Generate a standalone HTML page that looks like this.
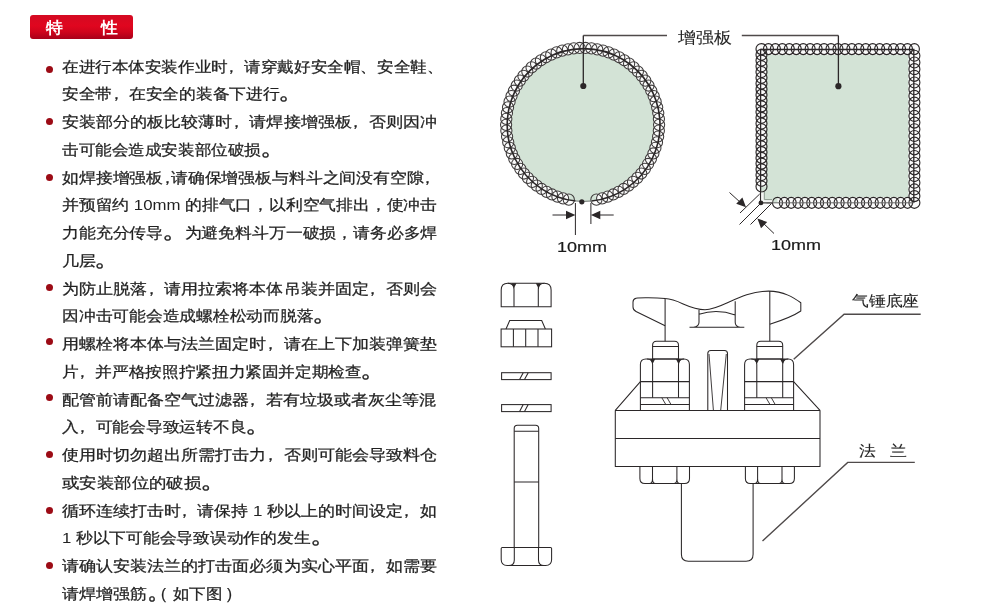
<!DOCTYPE html>
<html><head><meta charset="utf-8">
<style>
html,body{margin:0;padding:0;background:#fff;}
body{width:993px;height:610px;position:relative;overflow:hidden;font-family:"Liberation Sans",sans-serif;}
.badge{position:absolute;left:30px;top:14.6px;width:103.3px;height:24.1px;border-radius:3px;background:linear-gradient(#d40a22,#e0061f 45%,#d0041c 70%,#a8001a);}
.badge span{position:absolute;top:5px;color:#fff;font-weight:bold;font-size:16px;line-height:16px;transform:scaleX(1.05);transform-origin:0 0;}
.ln{position:absolute;left:62px;white-space:nowrap;font-size:15px;line-height:16px;color:#222;-webkit-text-stroke:0.25px #222;transform-origin:0 0;}
.ln b{font-weight:normal;position:relative;left:-4px;}
.ln u{text-decoration:none;display:inline-block;width:7px;text-indent:-4px;overflow:visible;}
.ln s{text-decoration:none;display:inline-block;transform:translateX(1.2px) scale(1.6);transform-origin:4px 12.5px;}
.ln i{font-style:normal;-webkit-text-stroke:0;}
.bul{position:absolute;left:45.7px;width:7px;height:7px;border-radius:50%;background:#9c0b15;}
.lb{position:absolute;white-space:nowrap;font-size:15px;line-height:16px;color:#222;-webkit-text-stroke:0.1px #222;transform-origin:0 0;}
.num{position:absolute;white-space:nowrap;font-size:15.5px;line-height:16px;color:#1a1a1a;-webkit-text-stroke:0.2px #1a1a1a;transform-origin:0 0;transform:scaleX(1.16);}
svg{position:absolute;left:0;top:0;}
.ln,.lb,.num,.badge span{will-change:transform;}
</style></head><body>
<div class="badge"><span style="left:16px">特</span><span style="left:71px">性</span></div>
<div class="ln" style="top:58.50px;transform:scaleX(1.105)">在进行本体安装作业时<b>，</b>请穿戴好安全帽、安全鞋、</div>
<div class="bul" style="top:65.50px"></div>
<div class="ln" style="top:86.25px;transform:scaleX(1.116)">安全带<b>，</b>在安全的装备下进行<s>。</s></div>
<div class="ln" style="top:114.00px;transform:scaleX(1.136)">安装部分的板比较薄时<b>，</b>请焊接增强板<b>，</b>否则因冲</div>
<div class="bul" style="top:118.20px"></div>
<div class="ln" style="top:141.75px;transform:scaleX(1.105)">击可能会造成安装部位破损<s>。</s></div>
<div class="ln" style="top:169.50px;transform:scaleX(1.123)">如焊接增强板<u>，</u>请确保增强板与料斗之间没有空隙<b>，</b></div>
<div class="bul" style="top:174.00px"></div>
<div class="ln" style="top:197.25px;transform:scaleX(1.119)">并预留约 <i>10mm</i> 的排气口，以利空气排出，使冲击</div>
<div class="ln" style="top:225.00px;transform:scaleX(1.123)">力能充分传导<s>。</s> 为避免料斗万一破损，请务必多焊</div>
<div class="ln" style="top:252.75px;transform:scaleX(1.127)">几层<s>。</s></div>
<div class="ln" style="top:280.50px;transform:scaleX(1.136)">为防止脱落<b>，</b>请用拉索将本体吊装并固定<b>，</b>否则会</div>
<div class="bul" style="top:284.00px"></div>
<div class="ln" style="top:308.25px;transform:scaleX(1.118)">因冲击可能会造成螺栓松动而脱落<s>。</s></div>
<div class="ln" style="top:336.00px;transform:scaleX(1.136)">用螺栓将本体与法兰固定时<b>，</b>请在上下加装弹簧垫</div>
<div class="bul" style="top:338.10px"></div>
<div class="ln" style="top:363.75px;transform:scaleX(1.11)">片<b>，</b>并严格按照拧紧扭力紧固并定期检查<s>。</s></div>
<div class="ln" style="top:391.50px;transform:scaleX(1.133)">配管前请配备空气过滤器<b>，</b>若有垃圾或者灰尘等混</div>
<div class="bul" style="top:393.70px"></div>
<div class="ln" style="top:419.25px;transform:scaleX(1.118)">入<b>，</b>可能会导致运转不良<s>。</s></div>
<div class="ln" style="top:447.00px;transform:scaleX(1.136)">使用时切勿超出所需打击力<b>，</b>否则可能会导致料仓</div>
<div class="bul" style="top:450.90px"></div>
<div class="ln" style="top:474.75px;transform:scaleX(1.161)">或安装部位的破损<s>。</s></div>
<div class="ln" style="top:502.50px;transform:scaleX(1.129)">循环连续打击时<b>，</b>请保持 <i>1</i> 秒以上的时间设定<b>，</b>如</div>
<div class="bul" style="top:506.50px"></div>
<div class="ln" style="top:530.25px;transform:scaleX(1.116)"><i>1</i> 秒以下可能会导致误动作的发生<s>。</s></div>
<div class="ln" style="top:558.00px;transform:scaleX(1.136)">请确认安装法兰的打击面必须为实心平面<b>，</b>如需要</div>
<div class="bul" style="top:561.70px"></div>
<div class="ln" style="top:585.75px;transform:scaleX(1.13)">请焊增强筋</div>
<svg width="993" height="610" viewBox="0 0 993 610"><circle cx="583.6" cy="125.0" r="76.4" fill="#d3e3d6"/>
<path d="M568.79,199.64 A76.5,76.5 0 1 1 596.41,199.64" fill="none" stroke="#fbfbfb" stroke-width="11.2"/>
<g fill="none" stroke="#3d3a3a" stroke-width="1.05"><circle cx="568.79" cy="199.64" r="5.6"/><circle cx="563.05" cy="198.36" r="5.6"/><circle cx="557.43" cy="196.64" r="5.6"/><circle cx="551.95" cy="194.49" r="5.6"/><circle cx="546.66" cy="191.93" r="5.6"/><circle cx="541.58" cy="188.97" r="5.6"/><circle cx="536.74" cy="185.63" r="5.6"/><circle cx="532.17" cy="181.93" r="5.6"/><circle cx="527.90" cy="177.88" r="5.6"/><circle cx="523.96" cy="173.53" r="5.6"/><circle cx="520.36" cy="168.88" r="5.6"/><circle cx="517.13" cy="163.96" r="5.6"/><circle cx="514.28" cy="158.82" r="5.6"/><circle cx="511.84" cy="153.47" r="5.6"/><circle cx="509.81" cy="147.95" r="5.6"/><circle cx="508.22" cy="142.29" r="5.6"/><circle cx="507.07" cy="136.52" r="5.6"/><circle cx="506.36" cy="130.68" r="5.6"/><circle cx="506.10" cy="124.81" r="5.6"/><circle cx="506.30" cy="118.93" r="5.6"/><circle cx="506.94" cy="113.09" r="5.6"/><circle cx="508.03" cy="107.31" r="5.6"/><circle cx="509.57" cy="101.63" r="5.6"/><circle cx="511.53" cy="96.09" r="5.6"/><circle cx="513.92" cy="90.72" r="5.6"/><circle cx="516.71" cy="85.54" r="5.6"/><circle cx="519.89" cy="80.59" r="5.6"/><circle cx="523.44" cy="75.90" r="5.6"/><circle cx="527.33" cy="71.50" r="5.6"/><circle cx="531.56" cy="67.42" r="5.6"/><circle cx="536.09" cy="63.66" r="5.6"/><circle cx="540.89" cy="60.27" r="5.6"/><circle cx="545.94" cy="57.26" r="5.6"/><circle cx="551.21" cy="54.64" r="5.6"/><circle cx="556.66" cy="52.43" r="5.6"/><circle cx="562.26" cy="50.65" r="5.6"/><circle cx="567.99" cy="49.31" r="5.6"/><circle cx="573.80" cy="48.41" r="5.6"/><circle cx="579.66" cy="47.96" r="5.6"/><circle cx="585.54" cy="47.96" r="5.6"/><circle cx="591.40" cy="48.41" r="5.6"/><circle cx="597.21" cy="49.31" r="5.6"/><circle cx="602.94" cy="50.65" r="5.6"/><circle cx="608.54" cy="52.43" r="5.6"/><circle cx="613.99" cy="54.64" r="5.6"/><circle cx="619.26" cy="57.26" r="5.6"/><circle cx="624.31" cy="60.27" r="5.6"/><circle cx="629.11" cy="63.66" r="5.6"/><circle cx="633.64" cy="67.42" r="5.6"/><circle cx="637.87" cy="71.50" r="5.6"/><circle cx="641.76" cy="75.90" r="5.6"/><circle cx="645.31" cy="80.59" r="5.6"/><circle cx="648.49" cy="85.54" r="5.6"/><circle cx="651.28" cy="90.72" r="5.6"/><circle cx="653.67" cy="96.09" r="5.6"/><circle cx="655.63" cy="101.63" r="5.6"/><circle cx="657.17" cy="107.31" r="5.6"/><circle cx="658.26" cy="113.09" r="5.6"/><circle cx="658.90" cy="118.93" r="5.6"/><circle cx="659.10" cy="124.81" r="5.6"/><circle cx="658.84" cy="130.68" r="5.6"/><circle cx="658.13" cy="136.52" r="5.6"/><circle cx="656.98" cy="142.29" r="5.6"/><circle cx="655.39" cy="147.95" r="5.6"/><circle cx="653.36" cy="153.47" r="5.6"/><circle cx="650.92" cy="158.82" r="5.6"/><circle cx="648.07" cy="163.96" r="5.6"/><circle cx="644.84" cy="168.88" r="5.6"/><circle cx="641.24" cy="173.53" r="5.6"/><circle cx="637.30" cy="177.88" r="5.6"/><circle cx="633.03" cy="181.93" r="5.6"/><circle cx="628.46" cy="185.63" r="5.6"/><circle cx="623.62" cy="188.97" r="5.6"/><circle cx="618.54" cy="191.93" r="5.6"/><circle cx="613.25" cy="194.49" r="5.6"/><circle cx="607.77" cy="196.64" r="5.6"/><circle cx="602.15" cy="198.36" r="5.6"/><circle cx="596.41" cy="199.64" r="5.6"/></g>
<path d="M575.61,200.98 A76.4,76.4 0 1 1 591.59,200.98" fill="none" stroke="#2b2728" stroke-width="1.6"/>
<path d="M591.59,200.98 A76.4,76.4 0 0 1 575.61,200.98" fill="none" stroke="#6f7571" stroke-width="1"/>
<path d="M583.3,35.5H667M741.8,35.5H838.4" stroke="#4f4a4a" stroke-width="1.6" fill="none"/>
<circle cx="581.8" cy="201.8" r="2.6" fill="#2b2728"/>
<path d="M575.4,203V235M590.9,203V224M552.5,215H569M613.7,215H597" stroke="#2b2728" stroke-width="1" fill="none"/>
<path d="M575.4,215L566,210.8V219.2Z M590.9,215L600.3,210.8V219.2Z" fill="#2b2728"/>
<rect x="760.6" y="49.5" width="153.19999999999993" height="153.3" fill="#d3e3d6"/>
<path d="M760.6,186.5V49.5H913.8V202.8H777.5" fill="none" stroke="#fbfbfb" stroke-width="11.0" stroke-linejoin="round"/>
<g fill="none" stroke="#2b2728" stroke-width="1.15"><ellipse cx="761.50" cy="186.50" rx="5.5" ry="5.5"/><ellipse cx="761.50" cy="180.78" rx="5.5" ry="5.5"/><ellipse cx="761.50" cy="175.05" rx="5.5" ry="5.5"/><ellipse cx="761.50" cy="169.32" rx="5.5" ry="5.5"/><ellipse cx="761.50" cy="163.60" rx="5.5" ry="5.5"/><ellipse cx="761.50" cy="157.88" rx="5.5" ry="5.5"/><ellipse cx="761.50" cy="152.15" rx="5.5" ry="5.5"/><ellipse cx="761.50" cy="146.43" rx="5.5" ry="5.5"/><ellipse cx="761.50" cy="140.70" rx="5.5" ry="5.5"/><ellipse cx="761.50" cy="134.97" rx="5.5" ry="5.5"/><ellipse cx="761.50" cy="129.25" rx="5.5" ry="5.5"/><ellipse cx="761.50" cy="123.53" rx="5.5" ry="5.5"/><ellipse cx="761.50" cy="117.80" rx="5.5" ry="5.5"/><ellipse cx="761.50" cy="112.08" rx="5.5" ry="5.5"/><ellipse cx="761.50" cy="106.35" rx="5.5" ry="5.5"/><ellipse cx="761.50" cy="100.62" rx="5.5" ry="5.5"/><ellipse cx="761.50" cy="94.90" rx="5.5" ry="5.5"/><ellipse cx="761.50" cy="89.17" rx="5.5" ry="5.5"/><ellipse cx="761.50" cy="83.45" rx="5.5" ry="5.5"/><ellipse cx="761.50" cy="77.72" rx="5.5" ry="5.5"/><ellipse cx="761.50" cy="72.00" rx="5.5" ry="5.5"/><ellipse cx="761.50" cy="66.27" rx="5.5" ry="5.5"/><ellipse cx="761.50" cy="60.55" rx="5.5" ry="5.5"/><ellipse cx="761.50" cy="54.82" rx="5.5" ry="5.5"/><ellipse cx="761.50" cy="49.10" rx="5.5" ry="5.5"/><ellipse cx="768.45" cy="49.10" rx="5.0" ry="5.5"/><ellipse cx="775.40" cy="49.10" rx="5.0" ry="5.5"/><ellipse cx="782.35" cy="49.10" rx="5.0" ry="5.5"/><ellipse cx="789.30" cy="49.10" rx="5.0" ry="5.5"/><ellipse cx="796.25" cy="49.10" rx="5.0" ry="5.5"/><ellipse cx="803.20" cy="49.10" rx="5.0" ry="5.5"/><ellipse cx="810.15" cy="49.10" rx="5.0" ry="5.5"/><ellipse cx="817.10" cy="49.10" rx="5.0" ry="5.5"/><ellipse cx="824.05" cy="49.10" rx="5.0" ry="5.5"/><ellipse cx="831.00" cy="49.10" rx="5.0" ry="5.5"/><ellipse cx="837.95" cy="49.10" rx="5.0" ry="5.5"/><ellipse cx="844.90" cy="49.10" rx="5.0" ry="5.5"/><ellipse cx="851.85" cy="49.10" rx="5.0" ry="5.5"/><ellipse cx="858.80" cy="49.10" rx="5.0" ry="5.5"/><ellipse cx="865.75" cy="49.10" rx="5.0" ry="5.5"/><ellipse cx="872.70" cy="49.10" rx="5.0" ry="5.5"/><ellipse cx="879.65" cy="49.10" rx="5.0" ry="5.5"/><ellipse cx="886.60" cy="49.10" rx="5.0" ry="5.5"/><ellipse cx="893.55" cy="49.10" rx="5.0" ry="5.5"/><ellipse cx="900.50" cy="49.10" rx="5.0" ry="5.5"/><ellipse cx="907.45" cy="49.10" rx="5.0" ry="5.5"/><ellipse cx="914.40" cy="49.10" rx="5.0" ry="5.5"/><ellipse cx="914.40" cy="55.78" rx="5.5" ry="5.5"/><ellipse cx="914.40" cy="62.47" rx="5.5" ry="5.5"/><ellipse cx="914.40" cy="69.15" rx="5.5" ry="5.5"/><ellipse cx="914.40" cy="75.83" rx="5.5" ry="5.5"/><ellipse cx="914.40" cy="82.51" rx="5.5" ry="5.5"/><ellipse cx="914.40" cy="89.20" rx="5.5" ry="5.5"/><ellipse cx="914.40" cy="95.88" rx="5.5" ry="5.5"/><ellipse cx="914.40" cy="102.56" rx="5.5" ry="5.5"/><ellipse cx="914.40" cy="109.24" rx="5.5" ry="5.5"/><ellipse cx="914.40" cy="115.93" rx="5.5" ry="5.5"/><ellipse cx="914.40" cy="122.61" rx="5.5" ry="5.5"/><ellipse cx="914.40" cy="129.29" rx="5.5" ry="5.5"/><ellipse cx="914.40" cy="135.97" rx="5.5" ry="5.5"/><ellipse cx="914.40" cy="142.66" rx="5.5" ry="5.5"/><ellipse cx="914.40" cy="149.34" rx="5.5" ry="5.5"/><ellipse cx="914.40" cy="156.02" rx="5.5" ry="5.5"/><ellipse cx="914.40" cy="162.70" rx="5.5" ry="5.5"/><ellipse cx="914.40" cy="169.39" rx="5.5" ry="5.5"/><ellipse cx="914.40" cy="176.07" rx="5.5" ry="5.5"/><ellipse cx="914.40" cy="182.75" rx="5.5" ry="5.5"/><ellipse cx="914.40" cy="189.43" rx="5.5" ry="5.5"/><ellipse cx="914.40" cy="196.12" rx="5.5" ry="5.5"/><ellipse cx="914.40" cy="202.80" rx="5.5" ry="5.5"/><ellipse cx="907.55" cy="202.80" rx="5.0" ry="5.5"/><ellipse cx="900.71" cy="202.80" rx="5.0" ry="5.5"/><ellipse cx="893.87" cy="202.80" rx="5.0" ry="5.5"/><ellipse cx="887.02" cy="202.80" rx="5.0" ry="5.5"/><ellipse cx="880.17" cy="202.80" rx="5.0" ry="5.5"/><ellipse cx="873.33" cy="202.80" rx="5.0" ry="5.5"/><ellipse cx="866.49" cy="202.80" rx="5.0" ry="5.5"/><ellipse cx="859.64" cy="202.80" rx="5.0" ry="5.5"/><ellipse cx="852.79" cy="202.80" rx="5.0" ry="5.5"/><ellipse cx="845.95" cy="202.80" rx="5.0" ry="5.5"/><ellipse cx="839.11" cy="202.80" rx="5.0" ry="5.5"/><ellipse cx="832.26" cy="202.80" rx="5.0" ry="5.5"/><ellipse cx="825.41" cy="202.80" rx="5.0" ry="5.5"/><ellipse cx="818.57" cy="202.80" rx="5.0" ry="5.5"/><ellipse cx="811.73" cy="202.80" rx="5.0" ry="5.5"/><ellipse cx="804.88" cy="202.80" rx="5.0" ry="5.5"/><ellipse cx="798.03" cy="202.80" rx="5.0" ry="5.5"/><ellipse cx="791.19" cy="202.80" rx="5.0" ry="5.5"/><ellipse cx="784.35" cy="202.80" rx="5.0" ry="5.5"/><ellipse cx="777.50" cy="202.80" rx="5.0" ry="5.5"/></g>
<path d="M760.6,202.8V49.5H913.8V202.8" fill="none" stroke="#2b2728" stroke-width="1.3"/>
<path d="M913.8,202.8H766.6" fill="none" stroke="#6a6a6a" stroke-width="1"/>
<path d="M760.6,202.8H772.6" fill="none" stroke="#2b2728" stroke-width="1.3"/>
<path d="M761.2,192.5h3.1v7.1h8v2.6h-11.1Z" fill="#f4f6f4"/>
<path d="M764.3,192V199.6H772" fill="none" stroke="#8a9a8e" stroke-width="1"/>
<circle cx="760.9" cy="202.9" r="2.4" fill="#2b2728"/>
<path d="M740,213L759.7,194M739.5,224.5L760.5,203.5M750.5,224.5L771.5,203.5M729.5,192.5L741,203M774,233.5L762,222" stroke="#2b2728" stroke-width="1" fill="none"/>
<path d="M746,207.3L736.2,203.8L742.4,197.6Z M757.4,218.5L767.2,222L761,228.2Z" fill="#2b2728"/>
<g fill="none" stroke="#2b2728" stroke-width="1.05">
<path d="M501.2,306.8V290Q501.2,283.3 507.9,283.3H544.4Q551.1,283.3 551.1,290V306.8Z"/>
<path d="M514,306.8V289.5Q514,283.3 507.8,283.3M538.3,306.8V289.5Q538.3,283.3 544.5,283.3"/>
<path d="M506,329L509.7,320.5H541.7L545.4,329"/>
<rect x="501.1" y="329" width="50.5" height="17.8"/>
<path d="M513.4,329V346.8M525.7,329V346.8M538,329V346.8"/>
<rect x="501.6" y="372.7" width="49.5" height="6.9"/>
<path d="M519.6,379.6L523.2,372.7M524.5,379.6L528.2,372.7"/>
<rect x="501.6" y="404.6" width="49.5" height="7"/>
<path d="M519.6,411.6L523.2,404.6M524.5,411.6L528.2,404.6"/>
<path d="M514.2,547.3V428.5Q514.2,425.3 517.4,425.3H535.5Q538.7,425.3 538.7,428.5V547.3"/>
<path d="M514.2,431.2H538.7M514.2,481.9H538.7"/>
<path d="M501.2,548.5Q501.2,547.4 502.3,547.4H550.5Q551.6,547.4 551.6,548.5V559.5Q551.6,565.5 545.6,565.5H507.2Q501.2,565.5 501.2,559.5Z"/>
<path d="M514.3,547.4V560Q514.3,565.5 508.8,565.5M538.5,547.4V560Q538.5,565.5 544,565.5"/>
</g>
<path d="M514,288L511.5,283.3H516.5Z M538.3,288L535.8,283.3H540.8Z" fill="#2b2728"/>
<g fill="none" stroke="#2b2728" stroke-width="1.05" stroke-linejoin="round">
<path d="M665.1,298.6C680,299.5 688,309.5 705,309.7C722,309.7 740,291.1 768.7,291.1C784,291.1 794,298 800.8,302.7V311C792,317 780,321 769.8,324.3"/>
<path d="M665.1,298.6C655,297.6 640,297.5 636,298.2Q633,299 633,302V307Q633,310 636,311.5L665.1,325.8"/>
<path d="M665.1,298.6V341.3M769.8,291.1V341.3"/>
<path d="M689.5,327.3H744.3M699,309.9V322.3Q699,326.5 693.5,327.3M735.2,301.3V322.3Q735.2,326.5 740,327.3M699,314.2Q717,308.5 735.2,314.9"/>
<path d="M652.6,359V345.3Q652.6,341.3 656.6,341.3H674.5Q678.5,341.3 678.5,345.3V359"/>
<path d="M652.6,346.5H678.5"/>
<path d="M640.4,410.4V364.5Q640.4,359 645.9,359H683.9Q689.4,359 689.4,364.5V410.4"/>
<path d="M652.6,359H678.5M652.6,397.7V364.5Q652.6,359 647.1,359M678.5,397.7V364.5Q678.5,359 684.0,359"/>
<path d="M640.4,381.6H689.4M640.4,397.7H689.4M640.4,404.5H689.4"/>
<path d="M661.8,397.7L665.8,404.5M667.1,397.7L671,404.5" stroke-width="0.9"/>
<path d="M756.8000000000001,359V345.3Q756.8000000000001,341.3 760.8000000000001,341.3H778.7Q782.7,341.3 782.7,345.3V359"/>
<path d="M756.8000000000001,346.5H782.7"/>
<path d="M744.6,410.4V364.5Q744.6,359 750.1,359H788.1Q793.6,359 793.6,364.5V410.4"/>
<path d="M756.8000000000001,359H782.7M756.8000000000001,397.7V364.5Q756.8000000000001,359 751.3000000000001,359M782.7,397.7V364.5Q782.7,359 788.2,359"/>
<path d="M744.6,381.6H793.6M744.6,397.7H793.6M744.6,404.5H793.6"/>
<path d="M766.0,397.7L770.0,404.5M771.3000000000001,397.7L775.2,404.5" stroke-width="0.9"/>
<path d="M615.3,410.4L640.4,381.6M820,410.4L793.6,381.6"/>
<rect x="615.3" y="410.4" width="204.7" height="56"/>
<path d="M615.3,438.4H820"/>
<path d="M707.8,410.3V353.5Q707.8,350.5 710.8,350.5H724.5Q727.5,350.5 727.5,353.5V410.3"/>
<path d="M709,354L713.4,410.3M726.3,354L720.7,410.3" stroke-width="0.9"/>
<path d="M639.9,466.4V478.4Q639.9,483.4 644.9,483.4H684.5Q689.5,483.4 689.5,478.4V466.4"/>
<path d="M652.5,466.4V479Q652.5,483.4 649.5,483.4M652.5,479Q652.5,483.4 655.5,483.4M676.9,466.4V479Q676.9,483.4 673.9,483.4M676.9,479Q676.9,483.4 679.9,483.4"/>
<path d="M745.4,466.4V478.4Q745.4,483.4 750.4,483.4H789.4Q794.4,483.4 794.4,478.4V466.4"/>
<path d="M757.6,466.4V479Q757.6,483.4 754.6,483.4M757.6,479Q757.6,483.4 760.6,483.4M782,466.4V479Q782,483.4 779,483.4M782,479Q782,483.4 785,483.4"/>
<path d="M681.4,483.4V554.3Q681.4,561.3 688.4,561.3H746.1Q753.1,561.3 753.1,554.3V483.4"/>
</g>
<path d="M652.6,364L650,359H655.2Z M678.5,364L675.9,359H681.1Z M756.8,364L754.2,359H759.4Z M782.7,364L780.1,359H785.3Z" fill="#2b2728"/>
<path d="M793.7,359.3L844.1,314.2H920.7M762.5,541.1L847.7,462.4H914.8" fill="none" stroke="#4f4a4a" stroke-width="1.4"/>
<path d="M583.3,35.5V86M838.4,35.5V86.2" stroke="#2b2728" stroke-width="1.3" fill="none"/>
<circle cx="583.3" cy="86" r="3.1" fill="#2b2728"/><circle cx="838.4" cy="86.2" r="3.1" fill="#2b2728"/></svg>
<div class="lb" style="left:677.5px;top:30px;font-size:16px;transform:scaleX(1.12)">增强板</div>
<div class="lb" style="left:852px;top:293px;transform:scaleX(1.12)">气锤底座</div>
<div class="lb" style="left:859px;top:443px;transform:scaleX(1.12)">法</div>
<div class="lb" style="left:890px;top:443px;transform:scaleX(1.12)">兰</div>
<div class="ln" style="left:148px;top:585.75px;transform:scaleX(1.0)"><s>。</s></div><div class="ln" style="left:161px;top:585.75px;transform:scaleX(1.0)">(</div><div class="ln" style="left:173px;top:585.75px;transform:scaleX(1.1)">如下图</div><div class="ln" style="left:227px;top:585.75px;transform:scaleX(1.0)">)</div>
<div class="num" style="left:557px;top:239px">10mm</div>
<div class="num" style="left:771px;top:237px">10mm</div>
</body></html>
